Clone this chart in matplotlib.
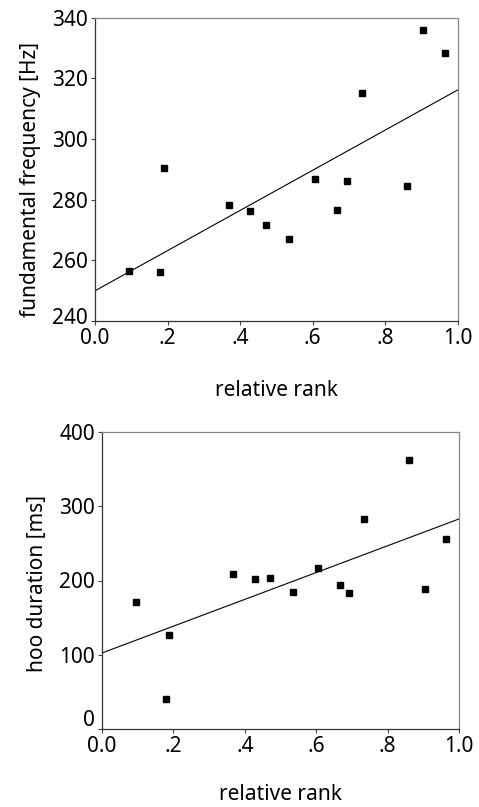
import numpy as np
import matplotlib
matplotlib.use('Agg')
import matplotlib.pyplot as plt
import matplotlib.transforms as mtransforms
from matplotlib.ticker import FixedLocator, FixedFormatter

plt.rcParams['font.family'] = ['Noto Sans', 'DejaVu Sans']

relative_rank = [0.095, 0.180, 0.189, 0.368, 0.428, 0.470, 0.535,
                 0.606, 0.668, 0.693, 0.735, 0.860, 0.904, 0.964]
frequency_hz = [256.6, 256.2, 290.5, 278.2, 276.2, 271.5, 266.9,
                286.7, 276.5, 286.2, 315.0, 284.4, 335.9, 328.2]
duration_ms = [170.6, 41.0, 126.5, 209.2, 202.4, 203.4, 184.9,
               217.3, 193.9, 183.5, 283.4, 361.7, 188.1, 256.4]

x_ticks = [0.0, 0.2, 0.4, 0.6, 0.8, 1.0]
x_tick_labels = ['0.0', '.2', '.4', '.6', '.8', '1.0']

fig = plt.figure(figsize=(4.79, 8.07), dpi=100)
ax1 = fig.add_axes([95 / 479, (807 - 321) / 807, 363 / 479, 303.5 / 807])
ax2 = fig.add_axes([102 / 479, (807 - 729) / 807, 357 / 479, 297 / 807])


def panel(ax, y, ylim, yticks, ylabel, ylab_pos, xlab_y, low_shift):
    x = np.array(relative_rank)
    y = np.array(y)
    slope, intercept = np.polyfit(x, y, 1)
    xs = np.array([0.0, 1.0])
    ax.plot(xs, intercept + slope * xs, color='black', lw=0.8, zorder=2)
    ax.plot(x, y, 's', color='black', ms=4.5, zorder=3)
    ax.set_xlim(0, 1)
    ax.set_ylim(*ylim)
    ax.xaxis.set_major_locator(FixedLocator(x_ticks))
    ax.xaxis.set_major_formatter(FixedFormatter(x_tick_labels))
    ax.set_yticks(yticks)
    ax.tick_params(direction='out', length=3, width=0.8, labelsize=15,
                   color='#444444', pad=2)
    for side in ['left', 'bottom']:
        ax.spines[side].set_color('#333333')
        ax.spines[side].set_linewidth(0.9)
    for side in ['top', 'right']:
        ax.spines[side].set_color('#888888')
        ax.spines[side].set_linewidth(0.9)
    ax.set_xlabel('relative rank', fontsize=15)
    ax.set_ylabel(ylabel, fontsize=15)
    ax.xaxis.set_label_coords(0.5, xlab_y)
    ax.yaxis.set_label_coords(*ylab_pos)
    # lowest y label sits a little above its tick
    lab = ax.get_yticklabels()[0]
    lab.set_transform(lab.get_transform() +
                      mtransforms.ScaledTranslation(0, low_shift / 100,
                                                    fig.dpi_scale_trans))


panel(ax1, frequency_hz, (240, 340), [240, 260, 280, 300, 320, 340],
      'fundamental frequency [Hz]', (-0.15, 0.465), -0.194, 5)
panel(ax2, duration_ms, (0, 400), [0, 100, 200, 300, 400],
      'hoo duration [ms]', (-0.15, 0.49), -0.185, 11)

fig.savefig('out.png', dpi=100)
